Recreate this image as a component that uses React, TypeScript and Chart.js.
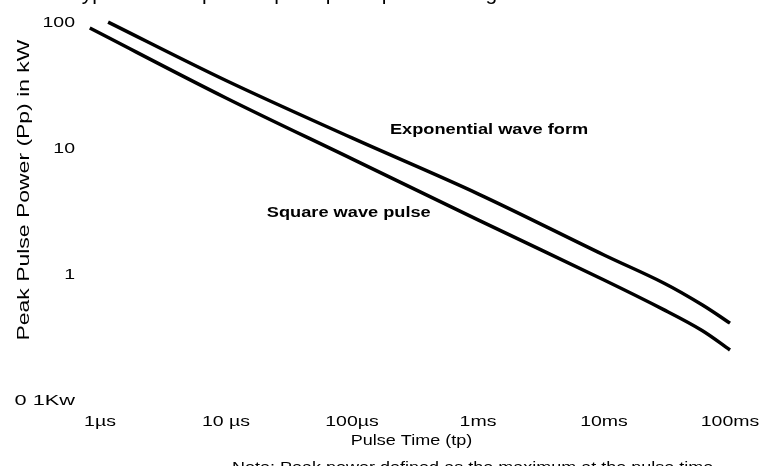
import React, { useEffect, useRef } from "react";
import { Chart, registerables } from "chart.js";

Chart.register(...registerables);

// Pulse time (s) and peak pulse power (kW)
const expTimes = [1.16e-6, 1e-5, 1e-4, 1e-3, 1e-2, 3e-2, 6e-2, 1e-1];
const expPower = [98, 33.7, 11.8, 4.25, 1.39, 0.83, 0.56, 0.4];
const sqTimes = [8.3e-7, 1e-5, 1e-4, 1e-3, 1e-2, 3e-2, 6e-2, 1e-1];
const sqPower = [88, 24.5, 8.05, 2.64, 0.88, 0.51, 0.35, 0.245];

const xTickValues = [1e-6, 1e-5, 1e-4, 1e-3, 1e-2, 1e-1];
const xTickLabels = ["1µs", "10 µs", "100µs", "1ms", "10ms", "100ms"];
const yTickValues = [100, 10, 1, 0.1];
const yTickLabels = ["100", "10", "1", "0 1Kw"];

const seriesLabels = ["Exponential wave form", "Square wave pulse"];
// label anchors (left edge / baseline) in data units
const labelTimes = [2.0e-4, 2.11e-5];
const labelPowers = [12.7, 2.78];

const xTitle = "Pulse Time (tp)";
const yTitle = "Peak Pulse Power (Pp) in kW";
const noteText = "Note: Peak power defined as the maximum at the pulse time";
const headerText = "Typical non-repetitive peak pulse power rating";

const FONT = '"Liberation Sans", Arial, Helvetica, sans-serif';

function drawText(
  ctx: CanvasRenderingContext2D,
  text: string,
  x: number,
  y: number,
  o: { size: number; bold?: boolean; align?: CanvasTextAlign; sx?: number; rotate?: boolean; baseline?: CanvasTextBaseline }
) {
  ctx.save();
  ctx.translate(x, y);
  if (o.rotate) ctx.rotate(-Math.PI / 2);
  ctx.scale(o.sx ?? 1.3, 1);
  ctx.font = `${o.bold ? "bold " : ""}${o.size}px ${FONT}`;
  ctx.textAlign = o.align ?? "left";
  ctx.textBaseline = o.baseline ?? "alphabetic";
  ctx.fillStyle = "#000";
  ctx.fillText(text, 0, 0);
  ctx.restore();
}

const textPlugin = {
  id: "textPlugin",
  afterDraw(chart: any) {
    const ctx: CanvasRenderingContext2D = chart.ctx;
    const xs = chart.scales.x;
    const ys = chart.scales.y;
    const area = chart.chartArea;
    xTickValues.forEach((v, i) => {
      drawText(ctx, xTickLabels[i], xs.getPixelForValue(v), area.bottom + 27, { size: 15, align: "center" });
    });
    yTickValues.forEach((v, i) => {
      const label = yTickLabels[i];
      drawText(ctx, label, area.left - 12, ys.getPixelForValue(v) + 6, {
        size: 15,
        align: "right",
        sx: label.length > 3 ? 1.45 : 1.3,
      });
    });
    seriesLabels.forEach((t, i) => {
      drawText(ctx, t, xs.getPixelForValue(labelTimes[i]), ys.getPixelForValue(labelPowers[i]), {
        size: 14,
        bold: true,
        align: "left",
      });
    });
    drawText(ctx, xTitle, (area.left + area.right) / 2, area.bottom + 46, { size: 15, align: "center", sx: 1.2 });
    drawText(ctx, yTitle, 24, 190, { size: 17, align: "center", baseline: "middle", rotate: true, sx: 1.35 });
    drawText(ctx, noteText, 232, 472, { size: 15, align: "left", sx: 1.2 });
    drawText(ctx, headerText, 70, -0.5, { size: 21, align: "left", sx: 1.0 });
  },
};

export default function App() {
  const ref = useRef<HTMLCanvasElement>(null);
  useEffect(() => {
    const canvas = ref.current;
    if (!canvas) return;
    const chart = new Chart(canvas, {
      type: "line",
      data: {
        datasets: [
          {
            label: seriesLabels[0],
            data: expTimes.map((t, i) => ({ x: t, y: expPower[i] })),
            borderColor: "#000",
            borderWidth: 3.5,
            pointRadius: 0,
            tension: 0.35,
            fill: false,
          },
          {
            label: seriesLabels[1],
            data: sqTimes.map((t, i) => ({ x: t, y: sqPower[i] })),
            borderColor: "#000",
            borderWidth: 3.5,
            pointRadius: 0,
            tension: 0.35,
            fill: false,
          },
        ],
      },
      options: {
        animation: false,
        responsive: false,
        devicePixelRatio: 1,
        layout: { padding: { left: 0, right: 32, top: 14, bottom: 0 } },
        plugins: { legend: { display: false }, tooltip: { enabled: false }, title: { display: false } },
        scales: {
          x: {
            type: "logarithmic",
            bounds: "data",
            min: Math.pow(10, -6.1032),
            max: Math.pow(10, -0.9524),
            grid: { display: false, drawTicks: false },
            border: { display: false },
            ticks: { display: false },
            afterBuildTicks: (s: any) => {
              s.ticks = xTickValues.map((v) => ({ value: v }));
            },
            afterFit: (s: any) => {
              s.height = 67;
            },
          },
          y: {
            type: "logarithmic",
            bounds: "data",
            min: 0.1,
            max: Math.pow(10, 2.0556),
            grid: { display: false, drawTicks: false },
            border: { display: false },
            ticks: { display: false },
            afterBuildTicks: (s: any) => {
              s.ticks = yTickValues.map((v) => ({ value: v }));
            },
            afterFit: (s: any) => {
              s.width = 87;
            },
          },
        },
      },
      plugins: [textPlugin],
    } as any);
    return () => chart.destroy();
  }, []);
  return (
    <div style={{ position: "absolute", left: 0, top: 0, width: 768, height: 466, background: "#fff", overflow: "hidden" }}>
      <canvas ref={ref} width={768} height={466} style={{ display: "block", width: 768, height: 466 }} />
    </div>
  );
}
